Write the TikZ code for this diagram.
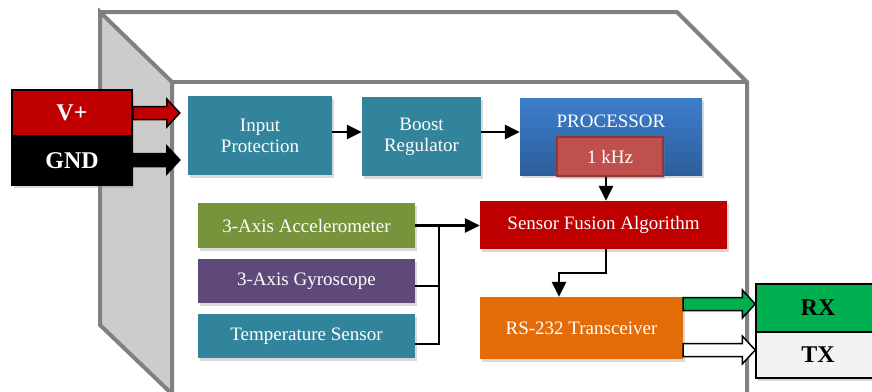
\documentclass[tikz,border=0pt]{standalone}
\usepackage{fontspec}
\setmainfont{Liberation Serif}
\usetikzlibrary{calc,arrows.meta,shadows}
\definecolor{boxgray}{HTML}{808080}
\definecolor{panelgray}{HTML}{CCCCCC}
\definecolor{tealc}{HTML}{31849B}
\definecolor{greenc}{HTML}{77933C}
\definecolor{purplec}{HTML}{5F497A}
\definecolor{redc}{HTML}{C00000}
\definecolor{orangec}{HTML}{E36C09}
\definecolor{proctop}{HTML}{3D7ECC}
\definecolor{procbot}{HTML}{2C5E9C}
\definecolor{khzfill}{HTML}{C0504D}
\definecolor{khzline}{HTML}{8C3A38}
\definecolor{rxgreen}{HTML}{00B050}
\definecolor{txgray}{HTML}{F2F2F2}
\newcommand{\myblockarrow}[3]{%
  \draw[line width=1.5pt, fill=#3, line join=miter] let \p1=#1, \p2=#2 in
   (\x1,\y1+6.5pt) -- (\x2-13pt,\y1+6.5pt) -- (\x2-13pt,\y1+14pt) -- (\x2,\y1)
   -- (\x2-13pt,\y1-14pt) -- (\x2-13pt,\y1-6.5pt) -- (\x1,\y1-6.5pt) -- cycle;}
\begin{document}
\begin{tikzpicture}[x=1pt,y=-1pt,
  boxline/.style={draw=boxgray, line width=4pt, line join=miter},
  blk/.style={inner sep=0pt, text=white, align=center,
    font=\fontsize{19}{21}\selectfont,
    drop shadow={opacity=0.3, shadow xshift=2pt, shadow yshift=-3pt}},
  pin/.style={inner sep=0pt, draw=black, line width=1.5pt,
    font=\fontsize{24}{26}\selectfont\bfseries},
  conn/.style={line width=2.5pt, draw=black},
  arr/.style={conn, -{Triangle[length=15pt,width=14pt]}}
]
\useasboundingbox (0,0) rectangle (872,391);
% enclosure
\draw[boxline, fill=panelgray] (100,12) -- (172,82) -- (172,394) -- (100,325) -- cycle;
\draw[boxline] (100,12) -- (677,12) -- (747,82) -- (747,400);
\draw[boxline] (172,82) -- (747,82);
% power pins
\node[pin, fill=redc, text=white, minimum width=120pt, minimum height=46pt,
  drop shadow={opacity=0.3, shadow xshift=2pt, shadow yshift=-3pt}] (vplus) at (72,113) {V+};
\node[pin, fill=black, text=white, minimum width=120pt, minimum height=49pt,
  drop shadow={opacity=0.3, shadow xshift=2pt, shadow yshift=-3pt}] (gnd) at (72,160.5) {GND};
% top row
\node[blk, fill=tealc, minimum width=144pt, minimum height=79pt] (ip) at (260,135.5) {Input\\Protection};
\node[blk, fill=tealc, minimum width=119pt, minimum height=79pt] (br) at (421.5,136.5) {Boost\\Regulator};
\node[blk, top color=proctop, bottom color=procbot, minimum width=182pt, minimum height=77pt] (proc) at (611,136.5) {};
\node[inner sep=0pt, text=white, font=\fontsize{19}{21}\selectfont] (proclabel) at (611,121) {PROCESSOR};
\node[blk, fill=khzfill, draw=khzline, line width=1.2pt, minimum width=106pt, minimum height=39pt] (khz) at (610,156.5) {1 kHz};
% sensors
\node[blk, fill=greenc, minimum width=217pt, minimum height=45pt] (acc) at (306.5,225.5) {3-Axis Accelerometer};
\node[blk, fill=purplec, minimum width=217pt, minimum height=44pt] (gyro) at (306.5,281) {3-Axis Gyroscope};
\node[blk, fill=tealc, minimum width=217pt, minimum height=44pt] (temp) at (306.5,336) {Temperature Sensor};
% processing
\node[blk, fill=redc, minimum width=247pt, minimum height=48pt] (fusion) at (603.5,225) {Sensor Fusion Algorithm};
\node[blk, fill=orangec, minimum width=203pt, minimum height=62pt] (rs) at (581.5,328) {RS-232 Transceiver};
% RX / TX
\node[pin, fill=rxgreen, text=black, minimum width=124pt, minimum height=48pt,
  drop shadow={opacity=0.3, shadow xshift=2pt, shadow yshift=-3pt}] (rx) at (818,308) {RX};
\node[pin, fill=txgray, text=black, minimum width=124pt, minimum height=46pt,
  drop shadow={opacity=0.3, shadow xshift=2pt, shadow yshift=-3pt}] (tx) at (818,355) {TX};
% block arrows
\coordinate (vtip) at ([xshift=-8pt]ip.west |- vplus.east);
\coordinate (gs) at ([yshift=0.5pt]gnd.east);
\coordinate (gtip) at (vtip |- gs);
\myblockarrow{(vplus.east)}{(vtip)}{redc}
\myblockarrow{(gs)}{(gtip)}{black}
\coordinate (rxs) at ([yshift=24pt]rs.east);
\coordinate (rxt) at (rx.west |- rxs);
\coordinate (txs) at ([yshift=-22pt]rs.east);
\coordinate (txt) at (tx.west |- txs);
\myblockarrow{(rxs)}{(rxt)}{rxgreen}
\myblockarrow{(txs)}{(txt)}{white}
% connectors
\draw[arr] ([yshift=3.5pt]ip.east) -- ([yshift=3.5pt]br.west |- ip.east);
\draw[arr] ([yshift=4.5pt]br.east) -- ([yshift=4.5pt]proc.west |- br.east);
\draw[arr] ([xshift=-4pt]khz.south) -- ([xshift=-4pt]khz.south |- fusion.north);
\coordinate (bus) at (439,225.5);
\draw[arr] (acc.east) -- (fusion.west |- acc.east);
\draw[conn] ([yshift=-5pt]gyro.east) -| (bus);
\draw[conn] ([yshift=-8pt]temp.east) -| (bus);
\draw[arr] ([xshift=2.5pt]fusion.south) -- ++(0,24) -| ([xshift=-22.5pt]rs.north);
\end{tikzpicture}
\end{document}
